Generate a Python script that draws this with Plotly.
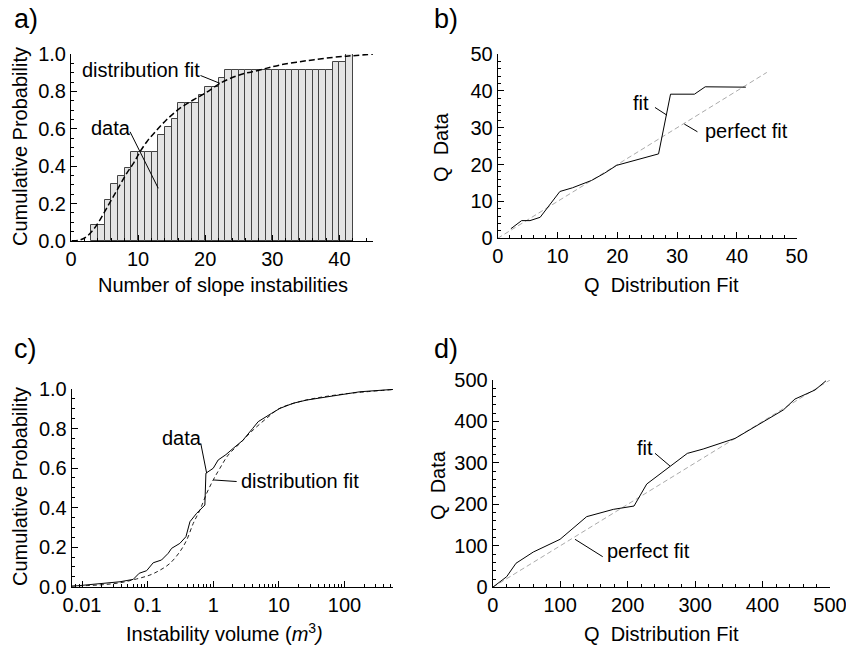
import math
import plotly.graph_objects as go

# ---------------- data ----------------
# a) histogram of cumulative probability (bin left edges, unit width)
a_bin_left = list(range(3, 42))
a_cum_prob = [0.087, 0.087, 0.217, 0.304, 0.348, 0.391, 0.478, 0.478, 0.478, 0.478,
              0.565, 0.609, 0.652, 0.739, 0.739, 0.739, 0.783, 0.826, 0.826, 0.870,
              0.913, 0.913, 0.913, 0.913, 0.913, 0.913, 0.913, 0.913, 0.913, 0.913,
              0.913, 0.913, 0.913, 0.913, 0.913, 0.913, 0.957, 0.957, 1.0]
a_fit_x = [0.1, 1.3, 2.3, 3.3, 4.3, 5.3, 6.3, 7.3, 8.3, 9.3, 10.3, 11.3, 12.8, 14.2,
           16.2, 18.2, 20.2, 22.2, 25.1, 28.1, 31.1, 35.1, 39.0, 42.0, 45.0]
a_fit_y = [0.002, 0.005, 0.023, 0.059, 0.112, 0.175, 0.237, 0.300, 0.362, 0.415, 0.478,
           0.531, 0.594, 0.647, 0.709, 0.754, 0.795, 0.843, 0.888, 0.914, 0.941, 0.964,
           0.982, 0.991, 1.0]

# b) Q-Q plot, counts
b_fit_q = [2.2, 4.0, 5.4, 7.1, 10.4, 12.5, 15.7, 17.9, 19.9, 26.9, 28.9, 32.9, 34.7, 41.5]
b_data_q = [2.6, 4.8, 4.8, 5.7, 12.7, 13.7, 15.7, 17.7, 19.8, 22.9, 39.1, 39.1, 41.1, 41.0]
b_perfect = [0, 45]

# c) cumulative probability of instability volume
c_data_vol = [0.00697, 0.01875, 0.038, 0.0603, 0.0745, 0.0966, 0.1216, 0.163, 0.206,
              0.232, 0.310, 0.384, 0.442, 0.558, 0.746, 0.774, 1.0, 1.19, 1.563, 2.02,
              2.82, 3.98, 4.85, 7.76, 10.4, 16.6, 26.5, 67.6, 172, 550]
c_data_cdf = [0.002, 0.014, 0.025, 0.037, 0.068, 0.081, 0.121, 0.135, 0.169, 0.194,
              0.219, 0.253, 0.329, 0.371, 0.413, 0.574, 0.599, 0.641, 0.668, 0.700,
              0.740, 0.800, 0.835, 0.877, 0.902, 0.928, 0.944, 0.965, 0.986, 0.998]
c_fit_vol = [0.00697, 0.01875, 0.038, 0.0676, 0.1084, 0.155, 0.219, 0.310, 0.394, 0.496,
             0.627, 0.794, 1.0, 1.265, 1.694, 2.553, 4.07, 7.08, 10, 17.8, 31.6, 100, 550]
c_fit_cdf = [0.003, 0.009, 0.020, 0.039, 0.059, 0.084, 0.118, 0.177, 0.236, 0.320,
             0.388, 0.472, 0.540, 0.599, 0.666, 0.725, 0.793, 0.862, 0.900, 0.930,
             0.950, 0.975, 0.997]

# d) Q-Q plot, volumes
d_fit_q = [0, 20.7, 34.5, 60.2, 99.8, 139.3, 178.8, 209.5, 228.3, 288.5, 312, 359.2,
           430.8, 448, 477.8, 494]
d_data_q = [0, 25.6, 57.9, 85.1, 115.7, 170.4, 188, 196, 249, 323, 333.5, 359, 427.7,
            454, 475.9, 498]
d_perfect = [0, 500]

c_tick_vals = [0.01, 0.1, 1, 10, 100]
c_tick_text = ["0.01", "0.1", "1", "10", "100"]

# ---------------- layout helpers ----------------
W, H = 846, 646
FONT = "Liberation Sans, Arial, sans-serif"
FS = 20


def px(x):
    return x / W


def py(y):
    return 1 - y / H


fig = go.Figure()

fig.add_trace(go.Bar(x=a_bin_left, y=a_cum_prob, offset=0, width=1,
                     marker=dict(color="#e4e4e4", line=dict(color="#444444", width=1)),
                     xaxis="x", yaxis="y", showlegend=False))
fig.add_trace(go.Scatter(x=a_fit_x, y=a_fit_y, mode="lines", line_shape="spline",
                         line=dict(color="black", width=1.5, dash="6px,3px"),
                         xaxis="x", yaxis="y", showlegend=False))

fig.add_trace(go.Scatter(x=b_perfect, y=b_perfect, mode="lines",
                         line=dict(color="#aaaaaa", width=1, dash="5px,3px"),
                         xaxis="x2", yaxis="y2", showlegend=False))
fig.add_trace(go.Scatter(x=b_fit_q, y=b_data_q, mode="lines",
                         line=dict(color="black", width=1),
                         xaxis="x2", yaxis="y2", showlegend=False))

fig.add_trace(go.Scatter(x=c_fit_vol, y=c_fit_cdf, mode="lines", line_shape="spline",
                         line=dict(color="#222222", width=1, dash="4px,3px"),
                         xaxis="x3", yaxis="y3", showlegend=False))
fig.add_trace(go.Scatter(x=c_data_vol, y=c_data_cdf, mode="lines",
                         line=dict(color="black", width=1),
                         xaxis="x3", yaxis="y3", showlegend=False))

fig.add_trace(go.Scatter(x=d_perfect, y=d_perfect, mode="lines",
                         line=dict(color="#aaaaaa", width=1, dash="5px,3px"),
                         xaxis="x4", yaxis="y4", showlegend=False))
fig.add_trace(go.Scatter(x=d_fit_q, y=d_data_q, mode="lines",
                         line=dict(color="black", width=1),
                         xaxis="x4", yaxis="y4", showlegend=False))


def ax(domain, rng, anchor, dtick, minor_dtick, ttype="linear", **kw):
    d = dict(domain=domain, range=rng, anchor=anchor, type=ttype, automargin=False,
             showline=True, linecolor="black", linewidth=1, mirror=False,
             showgrid=False, zeroline=False, ticklabeloverflow="allow",
             ticks="inside", ticklen=6, tickwidth=1, tickcolor="black",
             tickfont=dict(family=FONT, size=FS, color="black"),
             fixedrange=True)
    if ttype == "linear":
        d["dtick"] = dtick
        d["tick0"] = 0
        d["minor"] = dict(ticks="inside", ticklen=3, dtick=minor_dtick, tick0=0,
                          tickcolor="black", showgrid=False)
    d.update(kw)
    return d


dom_a_x = [px(71), px(373)]
dom_a_y = [py(241), py(54)]
dom_b_x = [px(497.7), px(796.7)]
dom_b_y = [py(238.3), py(54)]
dom_c_x = [px(71.7), px(393)]
dom_c_y = [py(586.7), py(389)]
dom_d_x = [px(492.7), px(830)]
dom_d_y = [py(587.3), py(380)]

c_minor = [m * 10 ** e for e in range(-3, 3) for m in range(2, 10)]

fig.update_layout(
    width=W, height=H, margin=dict(l=0, r=0, t=0, b=0, pad=0, autoexpand=False),
    paper_bgcolor="white", plot_bgcolor="white", bargap=0,
    font=dict(family=FONT, size=FS, color="black"),
    xaxis=ax(dom_a_x, [0, 45], "y", 10, 2),
    yaxis=ax(dom_a_y, [0, 1.0], "x", 0.2, 0.05, tickformat=".1f"),
    xaxis2=ax(dom_b_x, [0, 50], "y2", 10, 2),
    yaxis2=ax(dom_b_y, [0, 50], "x2", 10, 2),
    xaxis3=ax(dom_c_x, [-2.157, 2.74], "y3", None, None, ttype="log",
              tickvals=c_tick_vals, ticktext=c_tick_text,
              minor=dict(ticks="inside", ticklen=3, tickvals=c_minor,
                         tickcolor="black", showgrid=False)),
    yaxis3=ax(dom_c_y, [0, 1.0], "x3", 0.2, 0.05, tickformat=".1f"),
    xaxis4=ax(dom_d_x, [0, 500], "y4", 100, 20),
    yaxis4=ax(dom_d_y, [0, 500], "x4", 100, 20),
)

ann = []
shapes = []


def text(x, y, s, size=FS, xref="paper", yref="paper", xanchor="center",
         yanchor="middle", angle=0):
    ann.append(dict(x=x, y=y, xref=xref, yref=yref, text=s, showarrow=False,
                    xanchor=xanchor, yanchor=yanchor, textangle=angle,
                    font=dict(family=FONT, size=size, color="black")))


def seg(x0, y0, x1, y1, xref, yref):
    shapes.append(dict(type="line", x0=x0, y0=y0, x1=x1, y1=y1, xref=xref, yref=yref,
                       line=dict(color="black", width=1)))


# panel letters
text(px(12), py(2), "a)", size=27, xanchor="left", yanchor="top")
text(px(432), py(2), "b)", size=27, xanchor="left", yanchor="top")
text(px(12), py(332), "c)", size=27, xanchor="left", yanchor="top")
text(px(432), py(332), "d)", size=27, xanchor="left", yanchor="top")

# axis titles
text(px(223), py(285), "Number of slope instabilities")
text(px(20), py(147), "Cumulative Probability", angle=-90)
text(px(661), py(285), "Q\u00a0 Distribution Fit")
text(px(441), py(147), "Q\u00a0 Data", angle=-90)
text(px(20), py(487), "Cumulative Probability", angle=-90)
text(px(224), py(632), "Instability volume (<i>m</i><sup>3</sup><i>)</i>")
text(px(661), py(634), "Q\u00a0 Distribution Fit")
text(px(438), py(485), "Q\u00a0 Data", angle=-90)

# panel a labels
text(1.34, 0.912, "distribution fit", xref="x", yref="y", xanchor="left")
seg(19.3, 0.885, 22.2, 0.843, "x", "y")
text(6.0, 0.602, "data", xref="x", yref="y")
seg(8.8, 0.584, 13.0, 0.282, "x", "y")

# panel b labels
text(24.0, 36.6, "fit", xref="x2", yref="y2")
seg(26.3, 35.5, 28.3, 33.4, "x2", "y2")
text(34.3, 29.0, "perfect fit", xref="x2", yref="y2", xanchor="left")
seg(33.4, 28.9, 31.2, 31.0, "x2", "y2")

# panel c labels (annotations take log10 positions, shapes take data values)
text(-0.477, 0.752, "data", xref="x3", yref="y3")
seg(10 ** -0.19, 0.725, 10 ** -0.10, 0.574, "x3", "y3")
text(0.392, 0.535, "distribution fit", xref="x3", yref="y3", xanchor="left")
seg(10 ** 0.357, 0.532, 1.0, 0.54, "x3", "y3")

# panel d labels
text(225.8, 337.2, "fit", xref="x4", yref="y4")
seg(240.6, 323.2, 262.8, 292.6, "x4", "y4")
text(166.5, 87.6, "perfect fit", xref="x4", yref="y4", xanchor="left")
seg(163.1, 73.8, 122.0, 115.8, "x4", "y4")

fig.update_layout(annotations=ann, shapes=shapes)

fig.write_html("out.html", config={"displayModeBar": False},
               post_script="document.body.style.margin='0px';"
                           "document.body.style.overflow='hidden';")
